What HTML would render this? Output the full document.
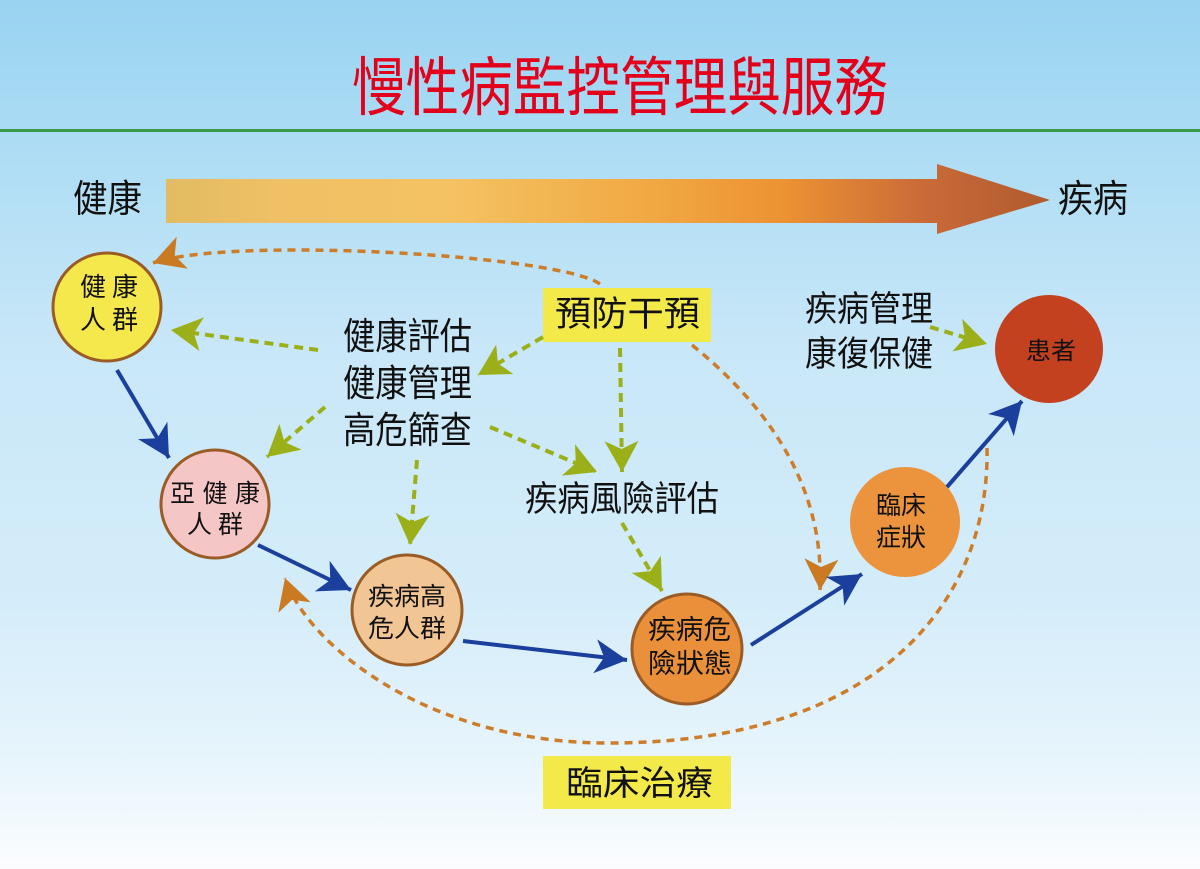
<!DOCTYPE html>
<html>
<head>
<meta charset="utf-8">
<style>
html,body{margin:0;padding:0;width:1200px;height:869px;overflow:hidden;}
svg{display:block;}
text{font-family:"Liberation Sans","Noto Sans CJK TC","Noto Sans CJK SC",sans-serif;fill:#111;}
</style>
</head>
<body>
<svg width="1200" height="869" viewBox="0 0 1200 869" xmlns="http://www.w3.org/2000/svg">
<defs>
  <linearGradient id="bg" x1="0" y1="0" x2="0" y2="1">
    <stop offset="0" stop-color="#98d3f1"/>
    <stop offset="0.16" stop-color="#acdcf4"/>
    <stop offset="0.4" stop-color="#c8e7f8"/>
    <stop offset="0.7" stop-color="#d5edfa"/>
    <stop offset="0.88" stop-color="#e8f5fc"/>
    <stop offset="1" stop-color="#fbfdff"/>
  </linearGradient>
  <linearGradient id="big" x1="166" y1="0" x2="1050" y2="0" gradientUnits="userSpaceOnUse">
    <stop offset="0" stop-color="#e2bb62"/>
    <stop offset="0.12" stop-color="#efc065"/>
    <stop offset="0.32" stop-color="#f4c262"/>
    <stop offset="0.55" stop-color="#f1a843"/>
    <stop offset="0.7" stop-color="#ec9233"/>
    <stop offset="0.86" stop-color="#c96a38"/>
    <stop offset="1" stop-color="#b05a2d"/>
  </linearGradient>
  <marker id="ab" markerUnits="userSpaceOnUse" markerWidth="40" markerHeight="40" viewBox="-35 -20 40 40" refX="0" refY="0" orient="auto">
    <path d="M0,0 L-32,-17 L-23,0 L-32,17 Z" fill="#1a3f9c"/>
  </marker>
  <marker id="ag" markerUnits="userSpaceOnUse" markerWidth="40" markerHeight="40" viewBox="-35 -20 40 40" refX="0" refY="0" orient="auto">
    <path d="M0,0 L-31,-17 L-23,0 L-31,17 Z" fill="#9bb018"/>
  </marker>
  <marker id="ao" markerUnits="userSpaceOnUse" markerWidth="40" markerHeight="40" viewBox="-35 -20 40 40" refX="0" refY="0" orient="auto">
    <path d="M0,0 L-31,-17 L-23,0 L-31,17 Z" fill="#c97a22"/>
  </marker>
</defs>

<rect x="0" y="0" width="1200" height="869" fill="url(#bg)"/>

<!-- title -->
<text x="352" y="110" font-size="64" fill="#e3001b" style="fill:#e3001b" textLength="536" lengthAdjust="spacingAndGlyphs">慢性病監控管理與服務</text>
<rect x="0" y="129" width="1200" height="3" fill="#389a45"/>

<!-- big arrow -->
<polygon points="166,179 937,179 937,164 1050,200 937,234 937,223 166,223" fill="url(#big)"/>
<text x="73" y="212" font-size="38" textLength="69" lengthAdjust="spacingAndGlyphs">健康</text>
<text x="1058" y="212" font-size="38" textLength="70" lengthAdjust="spacingAndGlyphs">疾病</text>

<!-- yellow boxes -->
<rect x="543" y="288" width="168" height="54" fill="#f3ea4a"/>
<rect x="543" y="756" width="188" height="53" fill="#f3ea4a"/>

<!-- orange dashed curves -->
<g fill="none" stroke="#cd7d2a" stroke-width="3.5" stroke-dasharray="8 6">
  <path d="M600,284 C560,255 230,236 153,263" marker-end="url(#ao)"/>
  <path d="M692,345 C760,400 825,480 820,590" marker-end="url(#ao)"/>
  <path d="M987,448 C990,600 880,745 603,743 C420,741 305,640 285,578" marker-end="url(#ao)"/>
</g>

<!-- green dashed arrows -->
<g fill="none" stroke="#9bb018" stroke-width="4" stroke-dasharray="9 6">
  <path d="M318,350 L171,330" marker-end="url(#ag)"/>
  <path d="M325,407 L267,457" marker-end="url(#ag)"/>
  <path d="M417,460 L410,545" marker-end="url(#ag)"/>
  <path d="M543,337 L478,375" marker-end="url(#ag)"/>
  <path d="M490,427 L597,472" marker-end="url(#ag)"/>
  <path d="M620,348 L622,472" marker-end="url(#ag)"/>
  <path d="M622,523 L662,591" marker-end="url(#ag)"/>
  <path d="M930,327 L987,344" marker-end="url(#ag)"/>
</g>

<!-- circles -->
<g stroke="#9a5c24" stroke-width="3">
  <circle cx="107" cy="307" r="54" fill="#f4e84c"/>
  <circle cx="215" cy="504" r="54" fill="#f4c6c6"/>
  <circle cx="407" cy="610" r="55" fill="#f2c594"/>
  <circle cx="687" cy="649" r="55" fill="#ea903b"/>
</g>
<circle cx="905" cy="522" r="55" fill="#eb943d"/>
<circle cx="1049" cy="349" r="54" fill="#c4411f"/>

<!-- blue arrows -->
<g fill="none" stroke="#1a3f9c" stroke-width="4">
  <path d="M117,370 L169,458" marker-end="url(#ab)"/>
  <path d="M258,545 L351,590" marker-end="url(#ab)"/>
  <path d="M463,641 L627,660" marker-end="url(#ab)"/>
  <path d="M751,645 L862,574" marker-end="url(#ab)"/>
  <path d="M947,487 L1022,401" marker-end="url(#ab)"/>
</g>

<!-- circle labels -->
<text x="80" y="296" font-size="26" textLength="58" lengthAdjust="spacing">健康</text>
<text x="80" y="329" font-size="26" textLength="58" lengthAdjust="spacing">人群</text>
<text x="170" y="502" font-size="25" textLength="90" lengthAdjust="spacing">亞健康</text>
<text x="187" y="533" font-size="25" textLength="56" lengthAdjust="spacing">人群</text>
<text x="368" y="605" font-size="25" textLength="78" lengthAdjust="spacingAndGlyphs">疾病高</text>
<text x="368" y="637" font-size="25" textLength="78" lengthAdjust="spacingAndGlyphs">危人群</text>
<text x="648" y="639" font-size="27" textLength="83" lengthAdjust="spacingAndGlyphs">疾病危</text>
<text x="648" y="673" font-size="27" textLength="84" lengthAdjust="spacingAndGlyphs">險狀態</text>
<text x="876" y="514" font-size="25" textLength="50" lengthAdjust="spacingAndGlyphs">臨床</text>
<text x="876" y="546" font-size="25" textLength="50" lengthAdjust="spacingAndGlyphs">症狀</text>
<text x="1026" y="359" font-size="24" textLength="50" lengthAdjust="spacingAndGlyphs">患者</text>

<!-- free labels -->
<text x="343" y="349" font-size="37" textLength="129" lengthAdjust="spacingAndGlyphs">健康評估</text>
<text x="343" y="396" font-size="37" textLength="129" lengthAdjust="spacingAndGlyphs">健康管理</text>
<text x="343" y="443" font-size="37" textLength="129" lengthAdjust="spacingAndGlyphs">高危篩查</text>
<text x="555" y="326" font-size="35" textLength="145" lengthAdjust="spacingAndGlyphs">預防干預</text>
<text x="805" y="321" font-size="35" textLength="128" lengthAdjust="spacingAndGlyphs">疾病管理</text>
<text x="805" y="366" font-size="35" textLength="128" lengthAdjust="spacingAndGlyphs">康復保健</text>
<text x="525" y="511" font-size="35" textLength="194" lengthAdjust="spacingAndGlyphs">疾病風險評估</text>
<text x="566" y="795" font-size="34" textLength="147" lengthAdjust="spacingAndGlyphs">臨床治療</text>
</svg>
</body>
</html>
